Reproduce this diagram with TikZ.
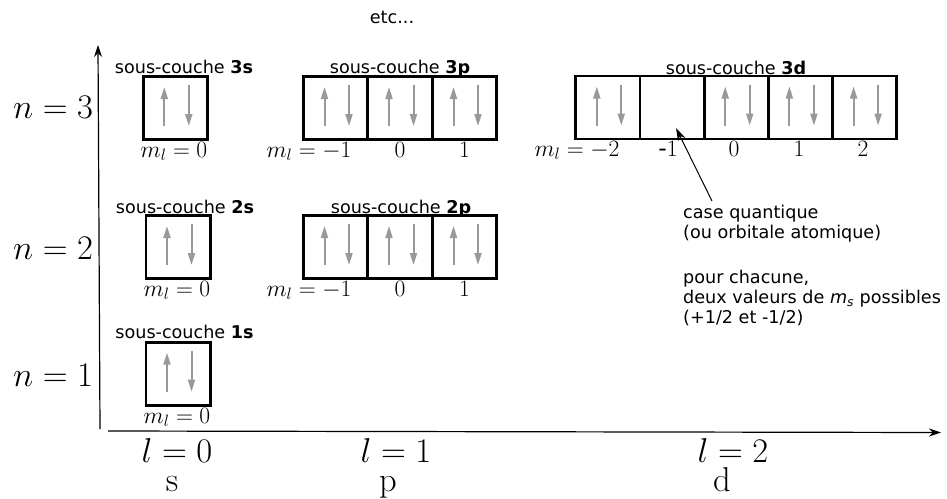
\RequirePackage{fix-cm}
\documentclass[tikz,border=0pt]{standalone}
\usepackage{fontspec}
\setmainfont{DejaVu Sans}
\newfontfamily\lmr{Latin Modern Roman}
\usetikzlibrary{arrows.meta}
\newcommand\spinpair[1]{%
  \draw[spin] ([shift={(-11,18)}]#1.center) -- ([shift={(-11,-21)}]#1.center);
  \draw[spin] ([shift={(13.5,-23)}]#1.center) -- ([shift={(13.5,18)}]#1.center);}
\begin{document}
\begin{tikzpicture}[x=1pt,y=-1pt,
  orb/.style={draw,line width=2.7pt,minimum width=64.3pt,minimum height=63pt,inner sep=0pt,outer sep=0pt},
  spin/.style={draw=gray!80,line width=2pt,-{Triangle[length=12pt,width=7pt,fill=gray!80]}},
  lab/.style={font=\fontsize{17.6}{21}\selectfont,inner sep=0pt,anchor=base},
  note/.style={font=\fontsize{17.6}{20.3}\selectfont,inner sep=0pt,anchor=north west,align=left},
  ml/.style={font=\fontsize{23.5}{26}\selectfont,inner sep=0pt,anchor=base},
  big/.style={font=\fontsize{34.5}{38}\selectfont,inner sep=0pt,anchor=base},
  axis/.style={line width=1.2pt,-{Stealth[length=12pt,width=8pt]}},
  ptr/.style={line width=1pt,-{Stealth[length=13pt,width=8pt]}}]
\useasboundingbox (0,0) rectangle (947,498);
% boxes n=3
\node[orb] (b3s) at (175.3,108) {};
\node[orb] (b3p1) at (335.5,108) {};
\node[orb] (b3p2) at (400,108) {};
\node[orb] (b3p3) at (464.5,108) {};
\node[orb] (b3d1) at (607.8,107.5) {};
\node[orb] (b3d2) at (672,107.5) {};
\node[orb] (b3d3) at (736.2,107.5) {};
\node[orb] (b3d4) at (800.4,107.5) {};
\node[orb] (b3d5) at (864.6,107.5) {};
% boxes n=2
\node[orb] (b2s) at (178,247) {};
\node[orb] (b2p1) at (335.5,247) {};
\node[orb] (b2p2) at (400,247) {};
\node[orb] (b2p3) at (464.5,247) {};
% box n=1
\node[orb] (b1s) at (178,373.7) {};
% spins
\spinpair{b3s}
\spinpair{b3p1}\spinpair{b3p2}\spinpair{b3p3}
\spinpair{b3d1}\spinpair{b3d3}\spinpair{b3d4}\spinpair{b3d5}
\spinpair{b2s}
\spinpair{b2p1}\spinpair{b2p2}\spinpair{b2p3}
\spinpair{b1s}
% sub-shell titles
\node[lab] (etc) at (392,23) {etc...};
\node[lab] (t3s) at (184,73) {sous-couche \textbf{3s}};
\node[lab] (t3p) at (400,73) {sous-couche \textbf{3p}};
\node[lab] (t3d) at (736,74) {sous-couche \textbf{3d}};
\node[lab] (t2s) at (185,213) {sous-couche \textbf{2s}};
\node[lab] (t2p) at (401,213) {sous-couche \textbf{2p}};
\node[lab] (t1s) at (184.5,338) {sous-couche \textbf{1s}};
% m_l labels
\node[ml] (m3s) at (174,157) {$m_l=0$};
\node[ml] (m3p1) at (309,157) {$m_l=-1$};
\node[ml] (m3p2) at (400,157) {$0$};
\node[ml] (m3p3) at (464.5,157) {$1$};
\node[ml] (m3d1) at (577,156) {$m_l=-2$};
\node[ml] (m3d2) at (668,156) {-$1$};
\node[ml] (m3d3) at (734,156) {$0$};
\node[ml] (m3d4) at (799,156) {$1$};
\node[ml] (m3d5) at (863,156) {$2$};
\node[ml] (m2s) at (177,296) {$m_l=0$};
\node[ml] (m2p1) at (309,296) {$m_l=-1$};
\node[ml] (m2p2) at (400,296) {$0$};
\node[ml] (m2p3) at (464.5,296) {$1$};
\node[ml] (m1s) at (177,423) {$m_l=0$};
% n labels
\node[big] (n3) at (53,118) {$n=3$};
\node[big] (n2) at (53,259) {$n=2$};
\node[big] (n1) at (53,386) {$n=1$};
% l labels
\node[big] (l0) at (177,462.7) {$l=0$};
\node[big] (ls) at (172,491.7) {\lmr s};
\node[big] (l1) at (396,462.7) {$l=1$};
\node[big] (lp) at (388,491.7) {\lmr p};
\node[big] (l2) at (733,462.7) {$l=2$};
\node[big] (ld) at (722,491.7) {\lmr d};
% notes
\node[note] (cq) at (683,204.5) {case quantique\\(ou orbitale atomique)};
\node[note] (pc) at (683,269.5) {pour chacune,\\deux valeurs de {\itshape m\textsubscript{s}} possibles\\(+1/2 et -1/2)};
\coordinate (cqstart) at (712,201);
\coordinate (tip) at (676,128);
\draw[ptr] (cqstart) -- (tip);
% axes
\coordinate (ybot) at (100,429);
\coordinate (ytop) at (98,45);
\coordinate (xbeg) at (108,431);
\coordinate (xend) at (941,432.5);
\draw[axis] (ybot) -- (ytop);
\draw[axis] (xbeg) -- (xend);
\end{tikzpicture}
\end{document}
